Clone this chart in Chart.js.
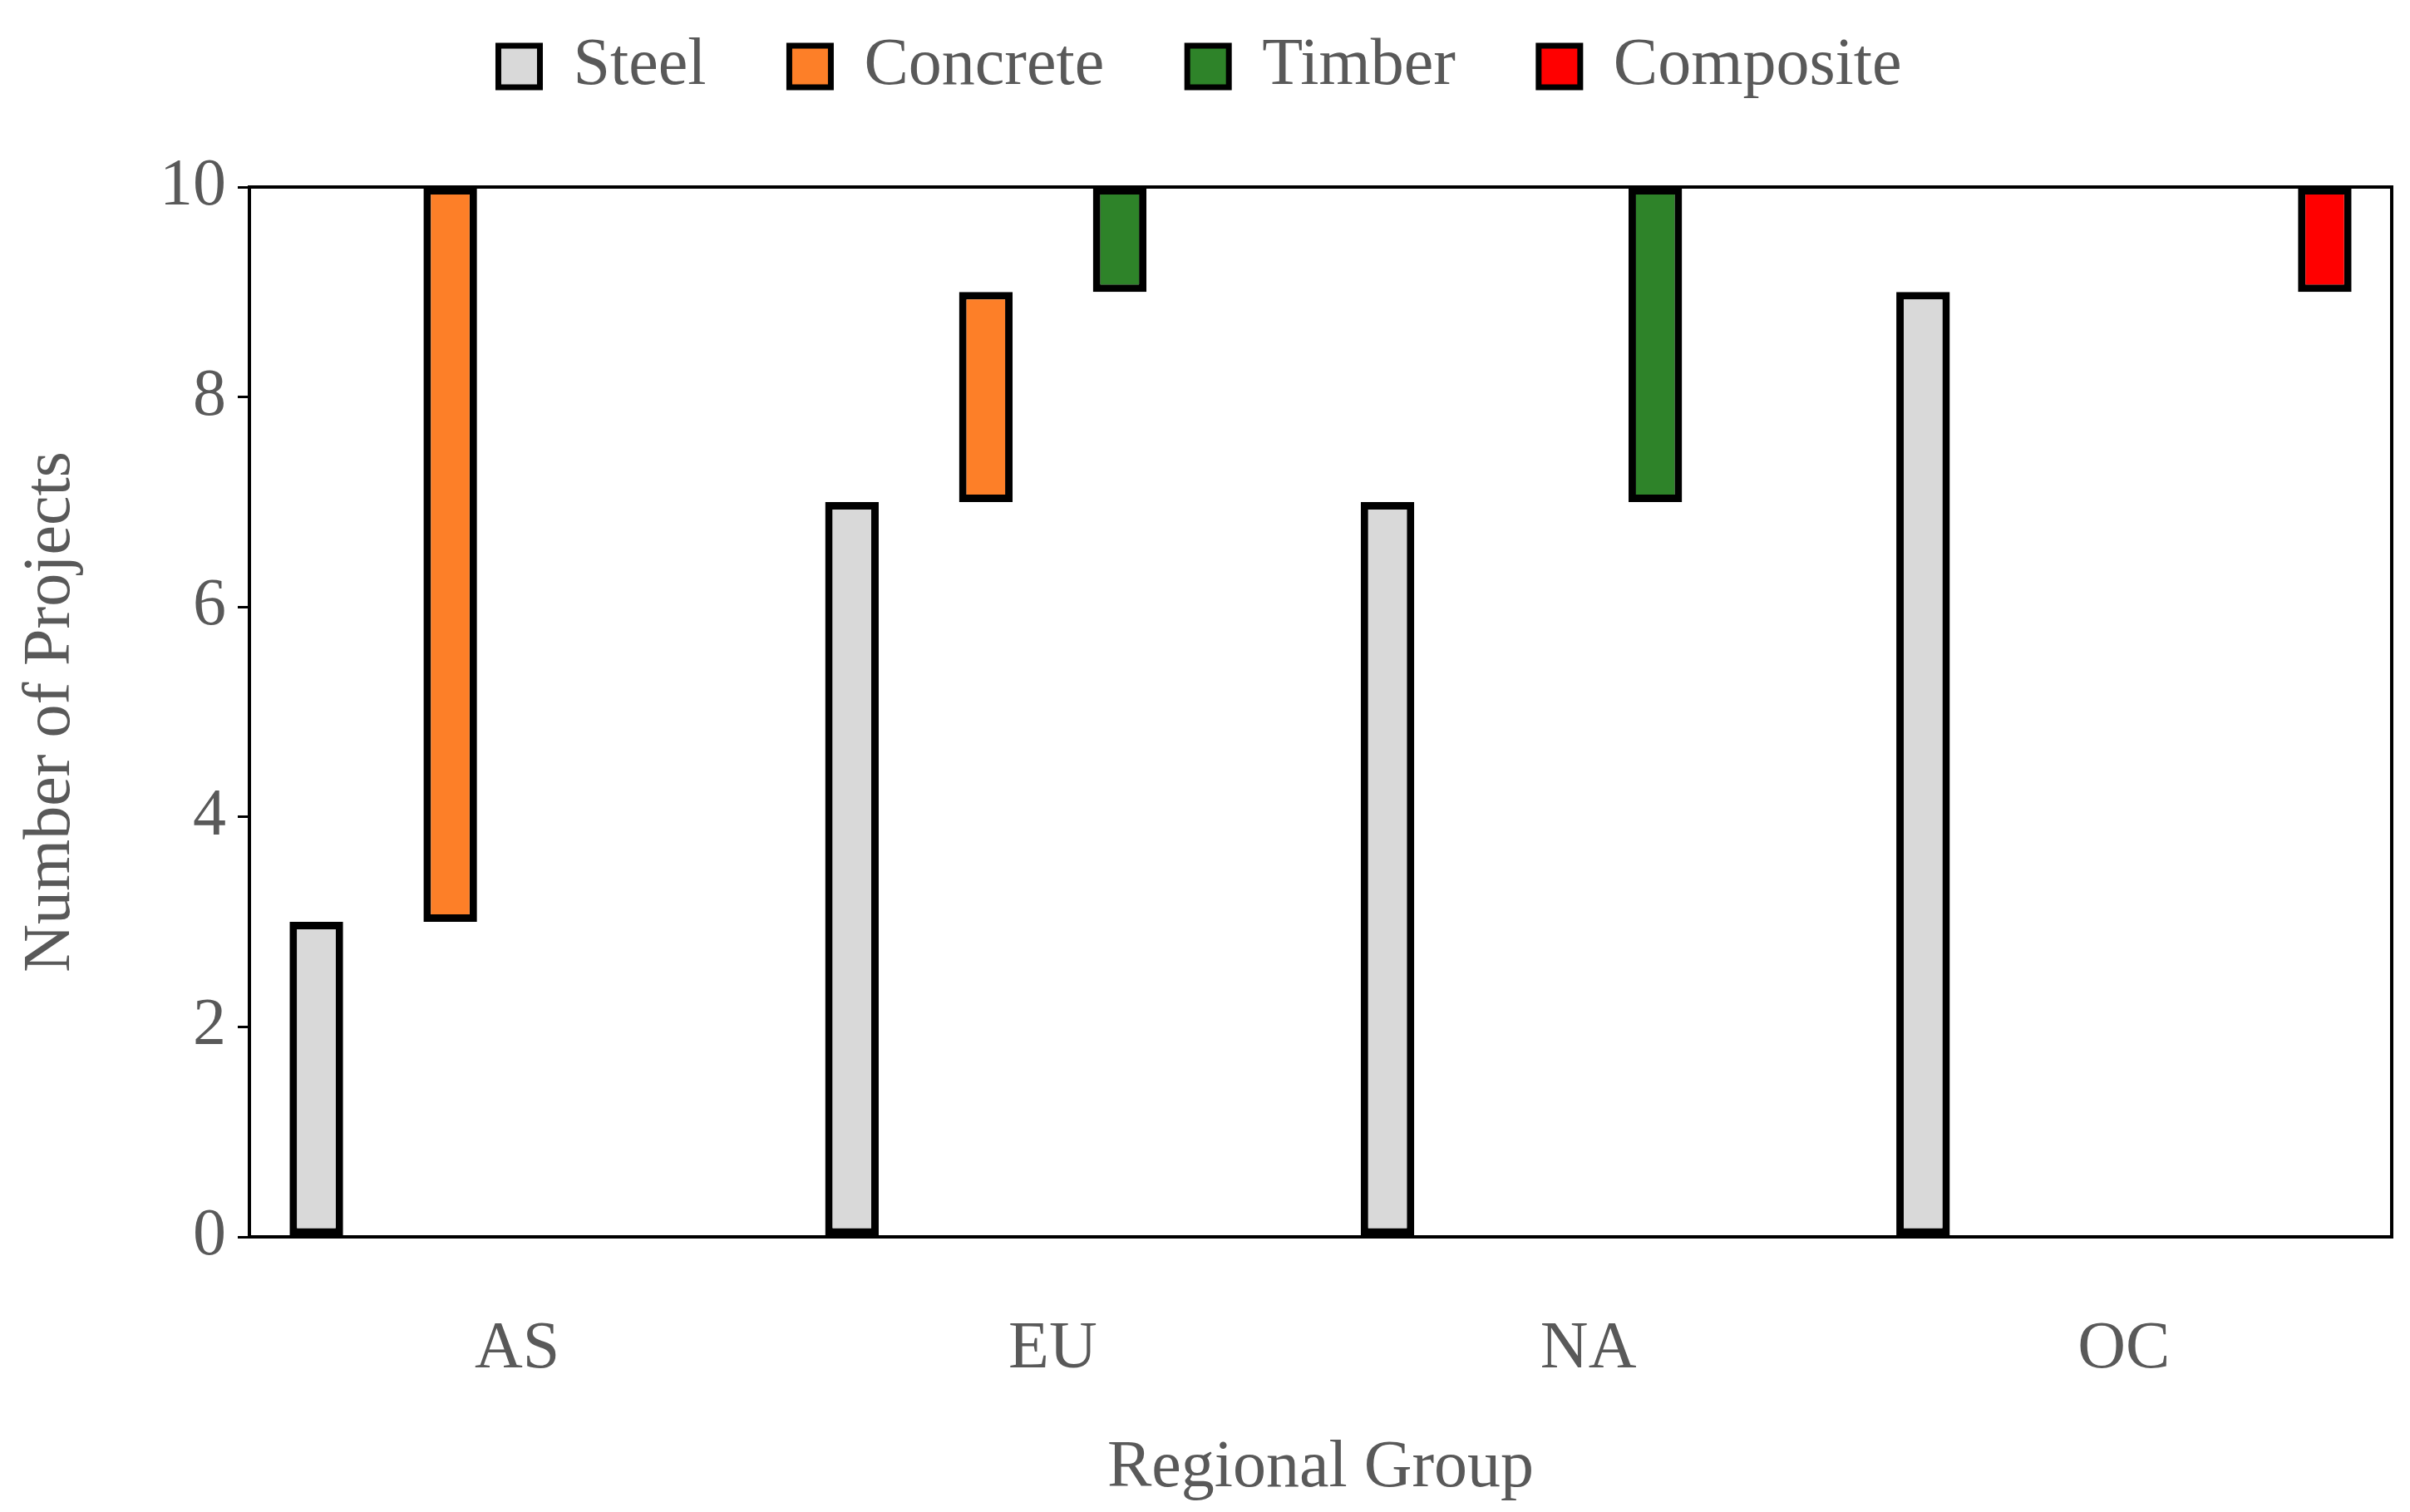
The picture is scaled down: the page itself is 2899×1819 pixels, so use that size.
<!DOCTYPE html>
<html>
<head>
<meta charset="utf-8">
<script src="https://cdn.jsdelivr.net/npm/chart.js@4"></script>
<style>
  html, body { margin: 0; padding: 0; background: #fff; }
  #wrap { width: 2899px; height: 1819px; }
</style>
</head>
<body>
<div id="wrap"><canvas id="chart"></canvas></div>
<script>
const regions = ["AS", "EU", "NA", "OC"];
const steel = [3, 7, 7, 9];
const concrete = [7, 2, null, null];
const timber = [null, 1, 3, null];
const composite = [null, null, null, 1];
const textColor = "#595959";
const font = "'Liberation Serif', 'DejaVu Serif', serif";

// Draw the black box round the plot area
const frame = {
  id: "frame",
  afterDraw(chart) {
    const { ctx, chartArea: a } = chart;
    ctx.save();
    ctx.strokeStyle = "#000";
    ctx.lineWidth = 4;
    ctx.strokeRect(a.left, a.top, a.right - a.left, a.bottom - a.top);
    ctx.restore();
  },
};

function ds(label, data, color) {
  return {
    label: label,
    data: data,
    backgroundColor: color,
    borderColor: "#000",
    borderWidth: 9,
    borderSkipped: false,
    barPercentage: 0.4,
    categoryPercentage: 1,
  };
}

new Chart(document.getElementById("chart"), {
  type: "bar",
  data: {
    labels: regions,
    datasets: [
      ds("Steel", steel, "#d9d9d9"),
      ds("Concrete", concrete, "#fd7f28"),
      ds("Timber", timber, "#2e8329"),
      ds("Composite", composite, "#ff0000"),
    ],
  },
  options: {
    responsive: true,
    maintainAspectRatio: false,
    animation: false,
    layout: { padding: { left: 10, right: 22, top: -60, bottom: 0 } },
    plugins: {
      tooltip: { enabled: false },
      legend: {
        position: "top",
        labels: {
          color: textColor,
          font: { family: font, size: 80 },
          boxWidth: 50,
          boxHeight: 50,
          padding: 100,
          generateLabels(chart) {
            return chart.data.datasets.map((d, i) => ({
              text: d.label,
              fillStyle: d.backgroundColor,
              strokeStyle: "#000",
              lineWidth: 7,
              fontColor: textColor,
              datasetIndex: i,
            }));
          },
        },
      },
    },
    scales: {
      top: {
        type: "category",
        position: "top",
        grid: { display: false },
        border: { display: false },
        ticks: { display: false },
        afterFit(scale) { scale.height = 95; },
      },
      x: {
        stacked: true,
        grid: { display: false },
        border: { display: false },
        ticks: { color: textColor, font: { family: font, size: 80 }, padding: 80 },
        title: {
          display: true,
          text: "Regional Group",
          color: textColor,
          font: { family: font, size: 80 },
          padding: { top: 45 },
        },
        afterFit(scale) { scale.height = 331; },
      },
      y: {
        stacked: true,
        min: 0,
        max: 10,
        ticks: { stepSize: 2, color: textColor, font: { family: font, size: 80 }, padding: 14 },
        grid: { display: true, drawOnChartArea: false, tickLength: 14, color: "#000", lineWidth: 3 },
        border: { display: false },
        title: {
          display: true,
          text: "Number of Projects",
          color: textColor,
          font: { family: font, size: 80 },
          padding: { bottom: 10 },
        },
        afterFit(scale) { scale.width = 290; },
      },
    },
  },
  plugins: [frame],
});
</script>
</body>
</html>
